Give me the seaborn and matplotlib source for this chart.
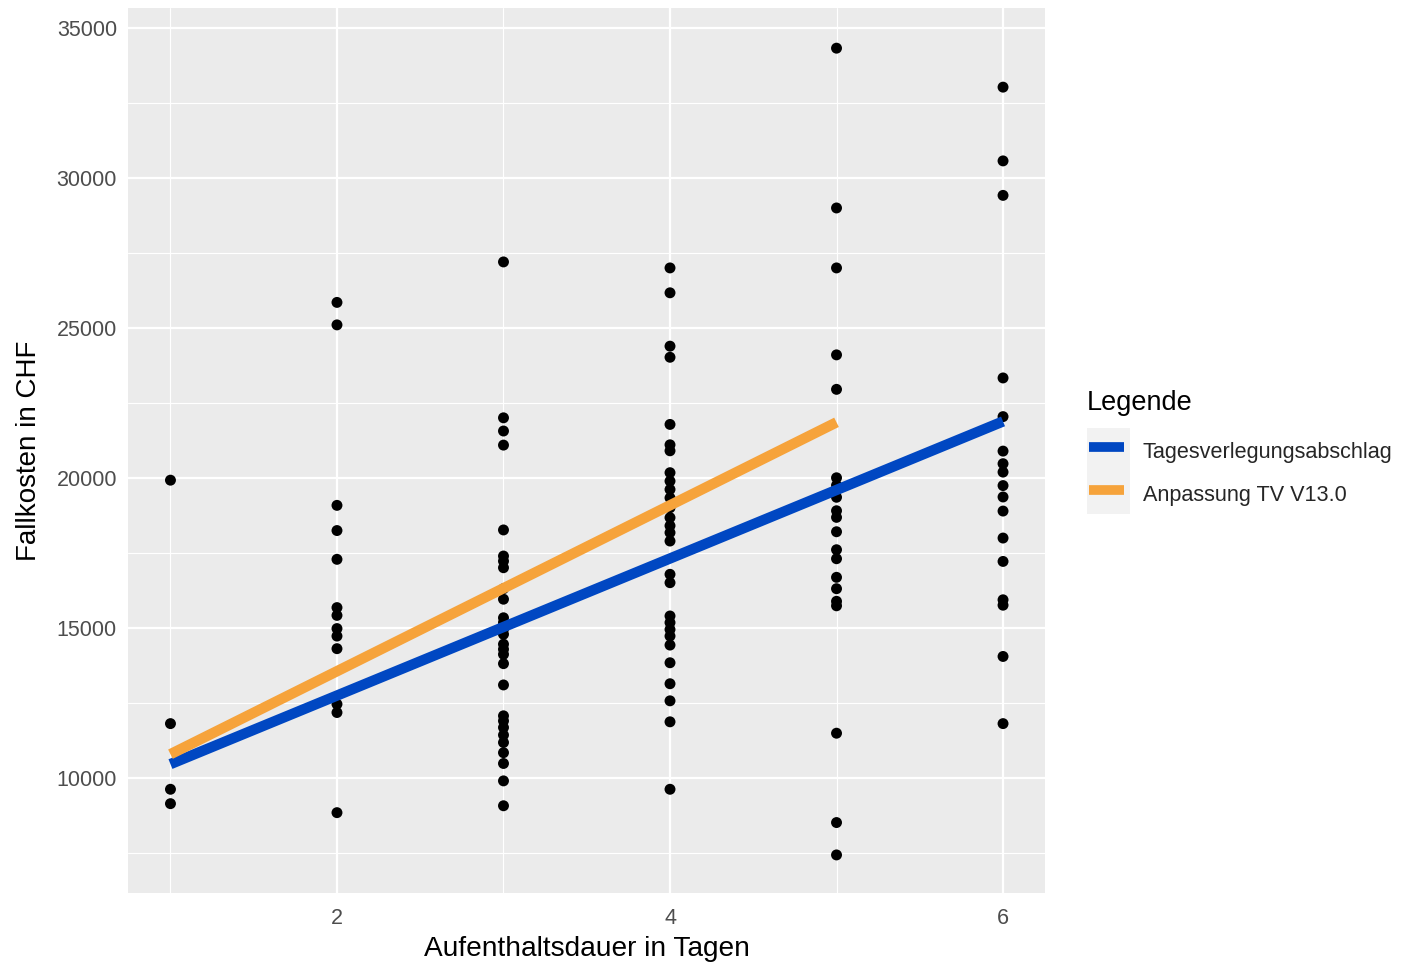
import pandas as pd
import matplotlib
matplotlib.use("Agg")
import matplotlib.pyplot as plt
import matplotlib.patches as patches
from matplotlib.lines import Line2D
from matplotlib.ticker import FixedLocator
import seaborn as sns

# Data (stay length in days, case cost in CHF)
days_1 = [19920, 11800, 9610, 9130]
days_2 = [25850, 25100, 19080, 18240, 17280, 15670, 15410, 14970, 14720, 14300,
          12450, 12170, 8830]
days_3 = [27200, 22000, 21560, 21090, 18260, 17390, 17220, 17000, 16300, 15950,
          15330, 15170, 14950, 14780, 14450, 14280, 14110, 13800, 13090, 12060,
          11890, 11670, 11420, 11170, 10830, 10470, 9890, 9060]
days_4 = [27000, 26170, 24390, 24020, 21780, 21100, 20900, 20170, 19890, 19610,
          19330, 19000, 18670, 18400, 18170, 17890, 16780, 16500, 15390, 15170,
          14940, 14720, 14420, 13830, 13130, 12560, 11860, 9610]
days_5 = [34330, 29000, 27000, 24100, 22950, 20000, 19750, 19350, 18900, 18680,
          18200, 17600, 17300, 16680, 16300, 15880, 15730, 11480, 8500, 7420]
days_6 = [33030, 30570, 29420, 23330, 22040, 20890, 20470, 20190, 19740, 19360,
          18890, 17990, 17210, 15930, 15750, 14040, 11800]

# Fitted lines (end points)
blue_x = [1, 6]
blue_y = [10450, 21880]
orange_x = [1, 5]
orange_y = [10780, 21850]

series_names = ["Tagesverlegungsabschlag", "Anpassung TV V13.0"]
series_colors = ["#0047C2", "#F6A33B"]

# Build tables
columns = [days_1, days_2, days_3, days_4, days_5, days_6]
points = pd.DataFrame({
    "dauer": [i + 1 for i, col in enumerate(columns) for _ in col],
    "kosten": [v for col in columns for v in col],
})
lines = pd.DataFrame({
    "dauer": blue_x + orange_x,
    "kosten": blue_y + orange_y,
    "Legende": [series_names[0]] * len(blue_x) + [series_names[1]] * len(orange_x),
})
palette = dict(zip(series_names, series_colors))

# ggplot-like look
sns.set_style("darkgrid", {"axes.facecolor": "#EBEBEB", "grid.color": "white"})
plt.rcParams["font.family"] = ["Liberation Sans", "DejaVu Sans"]

fig = plt.figure(figsize=(14.06, 9.63), dpi=100)
ax = fig.add_axes([128 / 1406, 1 - 893 / 963, 917 / 1406, 885 / 963])

sns.scatterplot(data=points, x="dauer", y="kosten", color="black", s=62,
                edgecolor="none", ax=ax, zorder=2)
sns.lineplot(data=lines, x="dauer", y="kosten", hue="Legende", palette=palette,
             hue_order=series_names, linewidth=7.5, ax=ax, zorder=3,
             solid_capstyle="butt", legend=False)

ax.set_xlim(0.745, 6.252)
ax.set_ylim(6150, 35670)
ax.xaxis.set_major_locator(FixedLocator([2, 4, 6]))
ax.xaxis.set_minor_locator(FixedLocator([1, 3, 5]))
ax.yaxis.set_major_locator(FixedLocator([10000, 15000, 20000, 25000, 30000, 35000]))
ax.yaxis.set_minor_locator(FixedLocator([7500, 12500, 17500, 22500, 27500, 32500]))
ax.grid(which="major", color="white", linewidth=1.6)
ax.grid(which="minor", color="white", linewidth=0.8)
ax.set_axisbelow(True)
for s in ax.spines.values():
    s.set_visible(False)

ax.tick_params(axis="both", which="major", length=4, width=1, color="#333333",
               labelsize=15.5, labelcolor="#4D4D4D")
ax.tick_params(axis="x", which="major", pad=7)
ax.tick_params(axis="y", which="major", pad=4)
ax.tick_params(axis="both", which="minor", length=0)

ax.set_xlabel("Aufenthaltsdauer in Tagen", fontsize=20.2, color="black", labelpad=5)
ax.set_ylabel("Fallkosten in CHF", fontsize=20, color="black", labelpad=10)

# Legend to the right: title, grey key background, then keys
fig.text(1087 / 1406, 1 - 403 / 963, "Legende", fontsize=19.5, color="black",
         ha="left", va="center")
fig.patches.append(patches.Rectangle((1087 / 1406, 1 - 514 / 963), 43 / 1406, 86 / 963,
                                     transform=fig.transFigure, facecolor="#F2F2F2",
                                     edgecolor="none", zorder=-1))
handles = [Line2D([], [], color=c, linewidth=7, solid_capstyle="butt") for c in series_colors]
leg = ax.legend(handles, series_names, loc="upper left",
                bbox_to_anchor=((1080 - 128) / 917, (893 - 428) / 885),
                frameon=False, fontsize=15.6,
                handlelength=1.65, handleheight=1.6, handletextpad=0.85,
                labelspacing=0.7, borderaxespad=0)

fig.savefig("out.png", dpi=100)
